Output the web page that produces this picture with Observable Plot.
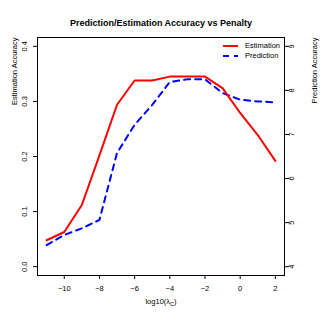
<!DOCTYPE html>
<html><head><meta charset="utf-8">
<script src="https://cdn.jsdelivr.net/npm/d3@7"></script>
<script src="https://cdn.jsdelivr.net/npm/@observablehq/plot@0.6"></script>
<style>body{margin:0;background:#fff}</style>
</head><body><div id="chart"></div>
<script>
const logLambda = [-11,-10,-9,-8,-7,-6,-5,-4,-3,-2,-1,0,1,2];
const estimation = [0.048,0.063,0.112,0.202,0.294,0.338,0.338,0.345,0.345,0.345,0.324,0.279,0.239,0.192];
const prediction = [4.49,4.72,4.87,5.06,6.58,7.22,7.67,8.19,8.25,8.25,7.94,7.79,7.75,7.73];
const leftTicks = [0,0.1,0.2,0.3,0.4];
const rightTicks = [4,5,6,7,8,9];
const xTicks = [-10,-8,-6,-4,-2,0,2];
const seriesNames = ["Estimation","Prediction"];
const seriesColors = ["#ff0000","#0000ff"];
const titleText = "Prediction/Estimation Accuracy vs Penalty";

// right axis (prediction) mapped onto left scale: 4 -> 0, 9 -> 0.4
const toLeft = p => (p - 4) * 0.08;
const fromLeft = v => v / 0.08 + 4;

const estData = logLambda.map((x,i) => ({x, y: estimation[i]}));
const predData = logLambda.map((x,i) => ({x, y: toLeft(prediction[i])}));

const font = "'Liberation Sans', Arial, Helvetica, sans-serif";
const dash = "6,5";

const chart = Plot.plot({
  width: 322, height: 322,
  marginLeft: 37, marginRight: 38, marginTop: 37, marginBottom: 47,
  style: {fontFamily: font, fontSize: "7.5px", color: "#000", background: "#fff"},
  x: {domain: [-11.52, 2.52]},
  y: {domain: [-0.016, 0.416]},
  marks: [
    Plot.axisX({ticks: xTicks, tickSize: 4, tickPadding: 6, label: null}),
    Plot.axisY({anchor: "left", ticks: leftTicks, tickFormat: d3.format(".1f"), tickSize: 4, tickPadding: 7, tickRotate: -90, lineAnchor: "bottom", label: null}),
    Plot.axisY({anchor: "right", ticks: rightTicks.map(toLeft), tickFormat: d => String(Math.round(fromLeft(d))), tickSize: 4, tickPadding: 0.5, tickRotate: -90, lineAnchor: "top", label: null}),
    Plot.frame({stroke: "#000", strokeWidth: 1}),
    Plot.line(predData, {x: "x", y: "y", stroke: seriesColors[1], strokeWidth: 2, strokeDasharray: dash}),
    Plot.line(estData, {x: "x", y: "y", stroke: seriesColors[0], strokeWidth: 2}),
    Plot.text([titleText], {frameAnchor: "top", dy: -18, fontWeight: "bold", fontSize: 9}),
    Plot.text(["Estimation Accuracy"], {frameAnchor: "top-left", dx: -26, rotate: -90, textAnchor: "end"}),
    Plot.text(["Prediction Accuracy"], {frameAnchor: "top-right", dx: 27.4, rotate: -90, textAnchor: "end"}),
    Plot.text(["log10(λC)"], {frameAnchor: "bottom", dy: 28})
  ]
});
document.getElementById("chart").appendChild(chart);

const svg = d3.select(chart);
// subscript for x label
svg.selectAll("text").filter(function(){ return this.textContent === "log10(λC)"; }).each(function(){
  const t = d3.select(this);
  t.text(null);
  t.append("tspan").text("log10(λ");
  t.append("tspan").attr("font-size", "5.5px").attr("dy", "2").text("C");
  t.append("tspan").attr("dy", "-2").text(")");
});

// legend
const lg = svg.append("g").attr("font-family", font).attr("font-size", "7.5px").attr("text-anchor", "start");
seriesNames.forEach((name, i) => {
  const yy = 46 + i * 10;
  lg.append("line").attr("x1", 223).attr("x2", 238).attr("y1", yy).attr("y2", yy)
    .attr("stroke", seriesColors[i]).attr("stroke-width", 2)
    .attr("stroke-dasharray", i === 1 ? dash : null);
  lg.append("text").attr("x", 245).attr("y", yy).attr("dy", "0.32em").attr("fill", "#000").text(name);
});
</script>
</body></html>
